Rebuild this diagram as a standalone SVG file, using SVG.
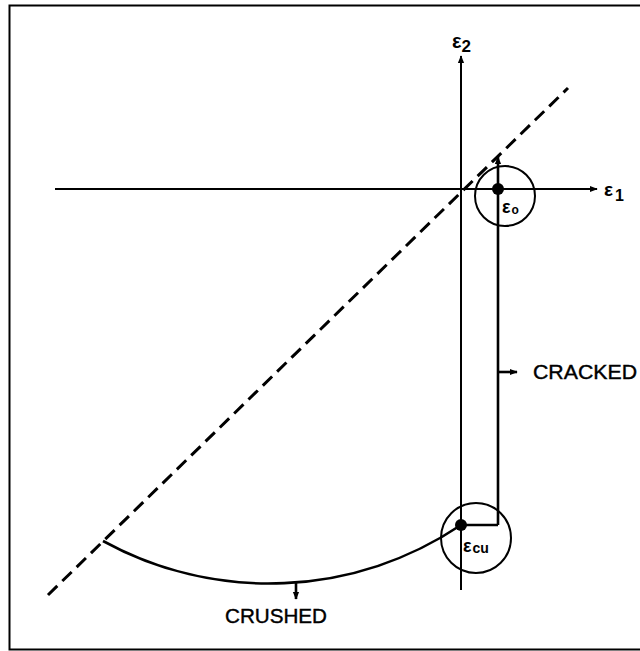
<svg xmlns="http://www.w3.org/2000/svg" width="640" height="651" viewBox="0 0 640 651">
<style>
.ax{stroke:#000;stroke-width:2;fill:none}
.ln{stroke:#000;stroke-width:2.6;fill:none}
.dash{stroke:#000;stroke-width:3;fill:none;stroke-dasharray:13 7}
.ring{stroke:#000;stroke-width:2;fill:none}
.dot{fill:#000}
.lbl{font-family:"Liberation Sans",Arial,sans-serif;font-size:20px;fill:#000;stroke:#000;stroke-width:0.4}
.eps{font-family:"Liberation Sans",Arial,sans-serif;font-weight:bold;fill:#000}
</style>
<defs>
<marker id="ah" viewBox="0 0 10 10" refX="9" refY="5" markerWidth="8" markerHeight="8" markerUnits="userSpaceOnUse" orient="auto">
<path d="M0,1 L10,5 L0,9 Z" fill="#000"/>
</marker>
</defs>
<rect width="640" height="651" fill="#fff"/>
<path d="M641,5.5 H9.5 V649.5 H641" stroke="#000" stroke-width="2" fill="none"/>
<g id="connectors">
<line class="ax" x1="55" y1="189" x2="597" y2="189" marker-end="url(#ah)"/>
<line class="ax" x1="461" y1="590" x2="461" y2="56" marker-end="url(#ah)"/>
<line class="dash" x1="48" y1="595" x2="568" y2="88"/>
<path class="ln" d="M498,525 V157" marker-end="url(#ah)"/>
<path class="ln" d="M461,525 H498"/>
<path class="ln" d="M103,541 A345,345 0 0 0 461,525"/>
<line class="ln" x1="498" y1="372" x2="517" y2="372" stroke-width="1.5" marker-end="url(#ah)"/>
<line class="ln" x1="296" y1="583" x2="296" y2="599" stroke-width="1.5" marker-end="url(#ah)"/>
</g>
<g id="node-eps2"><text class="eps" x="452" y="48" font-size="20">ε<tspan font-size="17" dy="4">2</tspan></text></g>
<g id="node-eps1"><text class="eps" x="604" y="196" font-size="19">ε<tspan font-size="16" dy="5" dx="2">1</tspan></text></g>
<g id="node-eps0">
<circle class="ring" cx="505" cy="196" r="30"/>
<circle class="dot" cx="498" cy="189" r="6"/>
<text class="eps" x="502" y="213" font-size="18">ε<tspan font-size="12" dx="1" dy="1">o</tspan></text>
</g>
<g id="node-epscu">
<circle class="ring" cx="476" cy="538" r="35"/>
<circle class="dot" cx="461" cy="525" r="6"/>
<text class="eps" x="463" y="552" font-size="18">ε<tspan font-size="14" dx="1" dy="1">cu</tspan></text>
</g>
<g id="node-cracked"><text class="lbl" x="533" y="379" textLength="104" lengthAdjust="spacingAndGlyphs">CRACKED</text></g>
<g id="node-crushed"><text class="lbl" x="225" y="623" textLength="102" lengthAdjust="spacingAndGlyphs">CRUSHED</text></g>
</svg>
